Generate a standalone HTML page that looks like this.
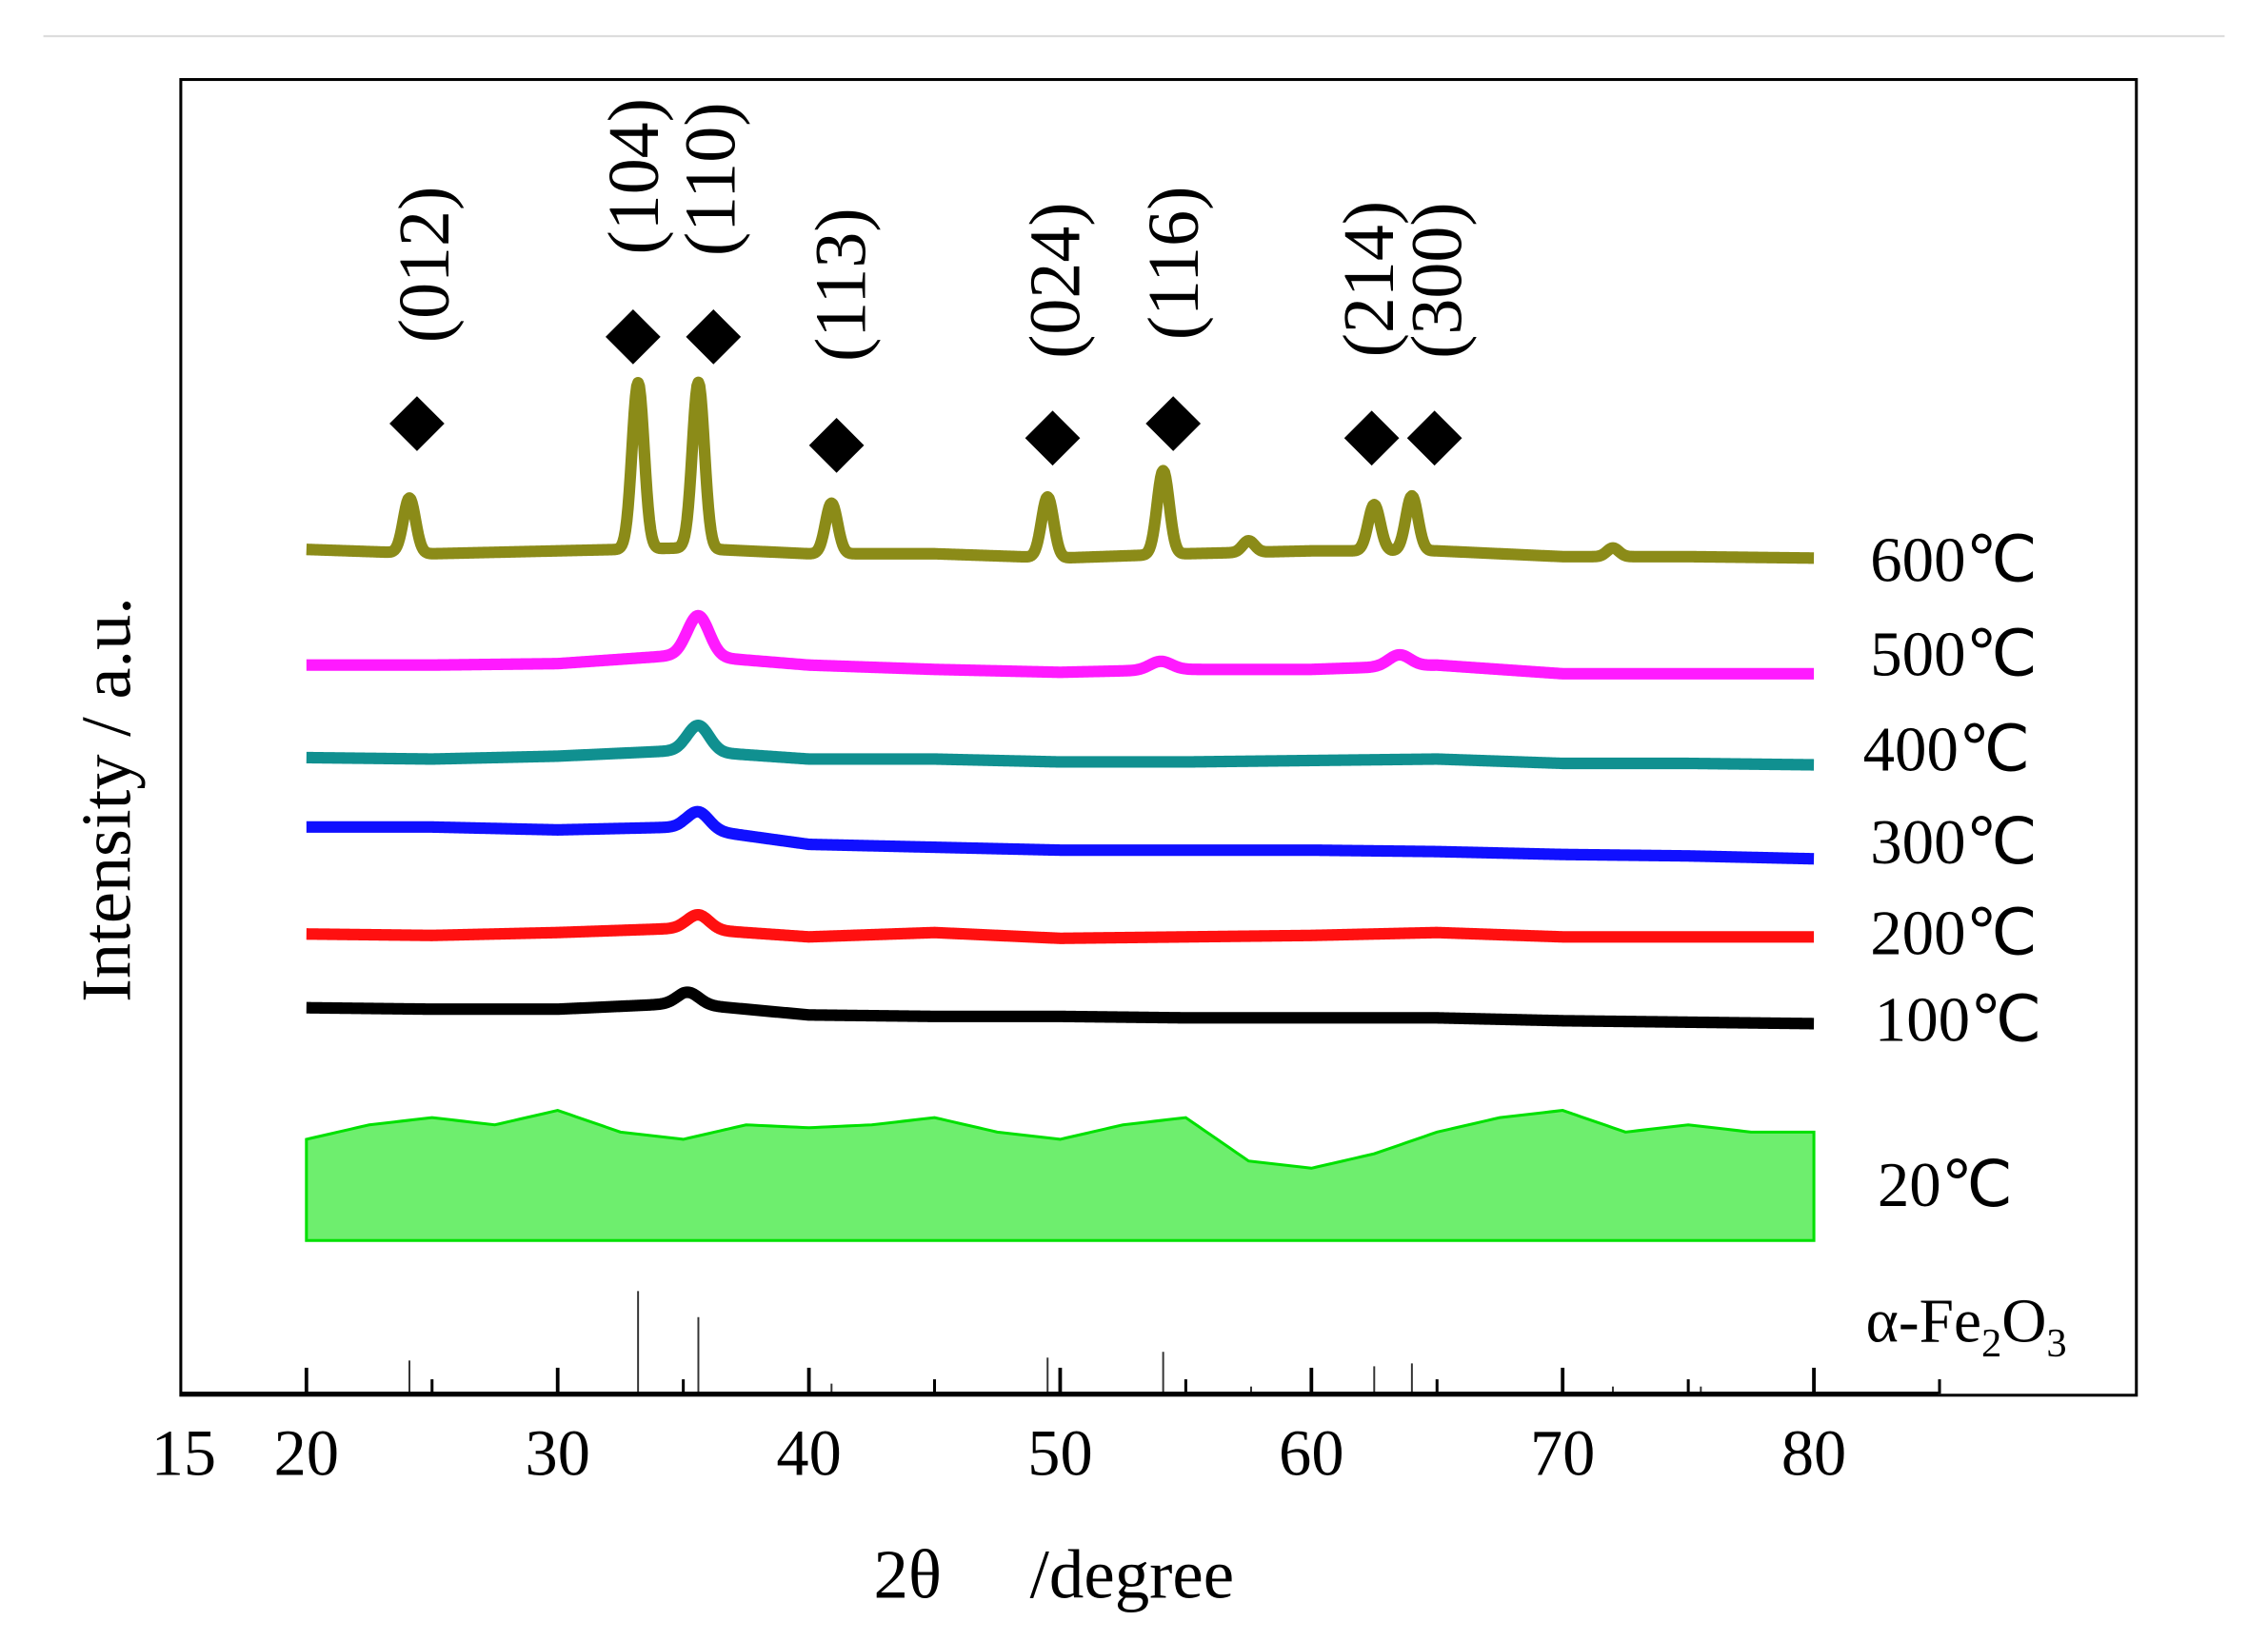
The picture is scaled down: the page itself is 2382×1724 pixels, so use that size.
<!DOCTYPE html>
<html><head><meta charset="utf-8"><style>
html,body{margin:0;padding:0;background:#fff;}
svg{display:block;}
text{font-family:"Liberation Serif",serif;fill:#000;}
</style></head><body>
<svg width="2382" height="1724" viewBox="0 0 1568 1135" preserveAspectRatio="none" xmlns="http://www.w3.org/2000/svg">
<line x1="30" y1="25" x2="1538" y2="25" stroke="#ddd" stroke-width="1.5"/>
<rect x="125" y="55" width="1352" height="910" fill="none" stroke="#000" stroke-width="2"/>
<g id="series"></g>
<g id="sticks"></g>
<g id="axis"></g>
<g id="markers"></g>
<text transform="translate(90,553) rotate(-90)" text-anchor="middle" font-size="49">Intensity / a.u.</text>
<text x="604" y="1105" font-size="48">2θ</text>
<text x="712" y="1105" font-size="48">/degree</text>
<text x="1290" y="928" font-size="43">α-Fe<tspan font-size="28" dy="10">2</tspan><tspan dy="-10">O</tspan><tspan font-size="28" dy="10">3</tspan></text>
</svg>
<script>
const NS='http://www.w3.org/2000/svg';
const X0=15, PX0=125, PXPERDEG=17.37;
function xs(d){return PX0+(d-X0)*PXPERDEG;}
function ys(v,base){return base-v;}
const tickLabels=[15,20,30,40,50,60,70,80];
const majorTicks=[20,30,40,50,60,70,80];
const minorTicks=[25,35,45,55,65,75,85];
const seriesNames=['600℃','500℃','400℃','300℃','200℃','100℃'];
const seriesColors=['#8b8b18','#ff1aff','#109090','#1010ff','#ff1010','#000000'];
const seriesBase=[383,463,527,580,648,702];
const labelY=[402,467,533,597,660,720];
const labelX=[1293,1293,1288,1293,1293,1296];
const sampleDeg=[20,25,30,35,40,45,50,55,60,65,70,75,80];
const shape600=[3,0,2,4,0,0,-3,0,2,2,-2,-2,-3];
const shape500=[3,3,4,10,3,0,-2,0,0,3,-3,-3,-3];
const shape400=[3,2,4,8,2,2,0,0,1,2,-1,-1,-2];
const shape300=[8,8,6,8,-4,-6,-8,-8,-8,-9,-11,-12,-14];
const shape200=[2,1,3,6,0,3,-1,0,1,3,0,0,0];
const shape100=[5,4,4,8,0,-1,-1,-2,-2,-2,-4,-5,-6];
const shapes=[shape600,shape500,shape400,shape300,shape200,shape100];
const peakPos600=[24.1,33.2,35.6,40.9,49.5,54.1,57.5,62.5,64.0,72.0];
const peakH600=[38,115,115,35,42,58,8,32,38,6];
const peakPos500=[35.6,54.0,63.5];
const peakH500=[28,6,8];
const peakPos400=[35.6];const peakH400=[18];
const peakPos300=[35.6];const peakH300=[12];
const peakPos200=[35.6];const peakH200=[10];
const peakPos100=[35.2];const peakH100=[8];
const peakPos=[peakPos600,peakPos500,peakPos400,peakPos300,peakPos200,peakPos100];
const peakH=[peakH600,peakH500,peakH400,peakH300,peakH200,peakH100];
const peakW=0.24;
const greenDeg=[20,22.5,25,27.5,30,32.5,35,37.5,40,42.5,45,47.5,50,52.5,55,57.5,60,62.5,65,67.5,70,72.5,75,77.5,80];
const greenTop=[70,80,85,80,90,75,70,80,78,80,85,75,70,80,85,55,50,60,75,85,90,75,80,75,75];
const greenBase=858;
const stickPos=[24.1,33.2,35.6,40.9,49.5,54.1,57.6,62.5,64.0,72.0,75.5];
const stickH=[22,70,52,6,24,28,4,18,20,4,4];
const stickBase=963;
const markerPos=[24.4,33.0,36.2,41.1,49.7,54.5,62.4,64.9];
const markerY=[293,233,233,308,303,293,303,303];
const hklLabels=['(012)','(104)','(110)','(113)','(024)','(116)','(214)','(300)'];
const hklX=[295,440,493,583,731,813,948,995];
const hklY=[183,122,124,197,194,182,193,194];

function el(tag,attrs,parent){const e=document.createElementNS(NS,tag);for(const k in attrs)e.setAttribute(k,attrs[k]);parent.appendChild(e);return e;}
function interp(arrX,arrY,d){for(let i=0;i<arrX.length-1;i++){if(d<=arrX[i+1]){const t=(d-arrX[i])/(arrX[i+1]-arrX[i]);return arrY[i]+(arrY[i+1]-arrY[i])*t;}}return arrY[arrY.length-1];}
const svg=document.querySelector('svg');
const gS=document.getElementById('series');
seriesNames.forEach((name,si)=>{
  let d='';
  for(let k=0;k<=1200;k++){const deg=20+k*0.05;let v=interp(sampleDeg,shapes[si],deg);
    peakPos[si].forEach((p,j)=>{v+=peakH[si][j]*Math.exp(-Math.pow((deg-p)/(si===0?peakW:peakW*1.8),2)/2);});
    d+=(k?'L':'M')+xs(deg).toFixed(2)+','+ys(v,seriesBase[si]).toFixed(2);}
  const p=el('path',{d:d,fill:'none',stroke:seriesColors[si],'stroke-width':8,'stroke-linejoin':'round'},gS);
  
  
  const t=el('text',{x:labelX[si],y:labelY[si],'font-size':44},svg);
  t.textContent=name;
  
  
});
let gd='M'+xs(20)+','+greenBase;
for(let k=0;k<=240;k++){const deg=20+k*0.25;gd+='L'+xs(deg).toFixed(2)+','+ys(interp(greenDeg,greenTop,deg),greenBase).toFixed(2);}
gd+='L'+xs(80)+','+greenBase+'Z';
const gp=el('path',{d:gd,fill:'#3ee83e','fill-opacity':0.75,stroke:'#00e000','stroke-width':2},gS);


const gl=el('text',{x:1298,y:834,'font-size':44},svg);
gl.textContent='20℃';


const gK=document.getElementById('sticks');
stickPos.forEach((p,i)=>{const l=el('line',{x1:xs(p),x2:xs(p),y1:stickBase,y2:ys(stickH[i],stickBase),stroke:'#333','stroke-width':1.3},gK);
  
  });
const gA=document.getElementById('axis');
const ax=el('line',{x1:125,x2:1340,y1:964,y2:964,stroke:'#000','stroke-width':3},gA);


majorTicks.forEach(t=>{const l=el('line',{x1:xs(t),x2:xs(t),y1:964,y2:946,stroke:'#000','stroke-width':2.5},gA);
  
  });
minorTicks.forEach(t=>{const l=el('line',{x1:xs(t),x2:xs(t),y1:964,y2:954,stroke:'#000','stroke-width':2},gA);
  
  });
tickLabels.forEach(t=>{const tx=el('text',{x:xs(t)+(t===15?2:0),y:1020,'font-size':45,'text-anchor':'middle'},gA);tx.textContent=t;
  
  });
const gM=document.getElementById('markers');
markerPos.forEach((p,i)=>{const cx=xs(p),cy=markerY[i],r=19;
  const m=el('polygon',{points:`${cx},${cy-r} ${cx+r},${cy} ${cx},${cy+r} ${cx-r},${cy}`,fill:'#000'},gM);
  
  
  const t=el('text',{transform:`translate(${hklX[i]+15},${hklY[i]}) rotate(-90)`,'font-size':50,'text-anchor':'middle'},gM);
  t.textContent=hklLabels[i];
  
  });
</script>
</body></html>
